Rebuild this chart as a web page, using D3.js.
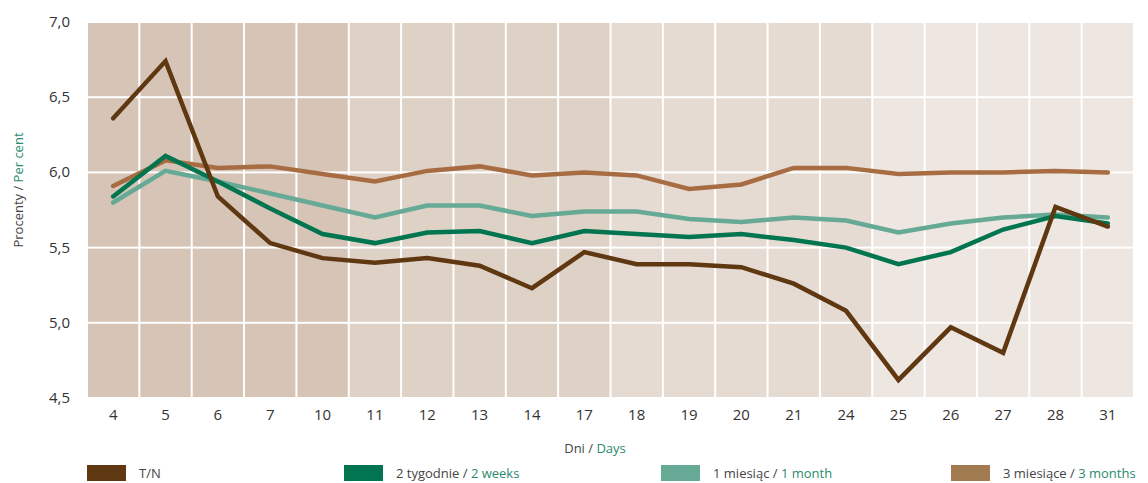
<!DOCTYPE html>
<html>
<head>
<meta charset="utf-8">
<script src="https://cdn.jsdelivr.net/npm/d3@7"></script>
<style>
  body { margin: 0; background: #fff; }
  text { font-family: "Open Sans", sans-serif; }
</style>
</head>
<body>
<script>
const width = 1148;
const height = 483;
const margin = { top: 22, right: 14, bottom: 85, left: 87 };

const days = ["4", "5", "6", "7", "10", "11", "12", "13", "14", "17",
  "18", "19", "20", "21", "24", "25", "26", "27", "28", "31"];
// week index of each day, used for the background shade
const weekOf = [0, 0, 0, 0, 0, 1, 1, 1, 1, 1, 2, 2, 2, 2, 2, 3, 3, 3, 3, 3];

const tn = [6.36, 6.74, 5.84, 5.53, 5.43, 5.40, 5.43, 5.38, 5.23, 5.47,
  5.39, 5.39, 5.37, 5.26, 5.08, 4.62, 4.97, 4.80, 5.77, 5.64];
const weeks2 = [5.84, 6.11, 5.94, 5.76, 5.59, 5.53, 5.60, 5.61, 5.53, 5.61,
  5.59, 5.57, 5.59, 5.55, 5.50, 5.39, 5.47, 5.62, 5.71, 5.66];
const month1 = [5.80, 6.01, 5.94, 5.86, 5.78, 5.70, 5.78, 5.78, 5.71, 5.74,
  5.74, 5.69, 5.67, 5.70, 5.68, 5.60, 5.66, 5.70, 5.72, 5.70];
const months3 = [5.91, 6.08, 6.03, 6.04, 5.99, 5.94, 6.01, 6.04, 5.98, 6.00,
  5.98, 5.89, 5.92, 6.03, 6.03, 5.99, 6.00, 6.00, 6.01, 6.00];

const yTicks = [4.5, 5.0, 5.5, 6.0, 6.5, 7.0];

const series = [
  { pl: "T/N", en: "", values: tn, color: "#5f3812" },
  { pl: "2 tygodnie / ", en: "2 weeks", values: weeks2, color: "#00754f" },
  { pl: "1 miesiąc / ", en: "1 month", values: month1, color: "#66aa96" },
  { pl: "3 miesiące / ", en: "3 months", values: months3, color: "#a86c43" }
];
const weekColors = ["#d6c5b7", "#ded1c5", "#e5dbd2", "#ede6e1"];

const chartWidth = width - margin.left - margin.right;
const chartHeight = 398 - margin.top;

const svg = d3.select("body").append("svg")
  .attr("width", width)
  .attr("height", height);

const g = svg.append("g")
  .attr("transform", `translate(${margin.left}, ${margin.top})`);

const x = d3.scaleBand().domain(days).range([0, chartWidth]);
const y = d3.scaleLinear().domain([4.5, 7.0]).range([chartHeight, 0]);

// background cells, white gaps between columns and rows
const rows = d3.pairs(yTicks);
days.forEach((d, i) => {
  g.selectAll(null).data(rows).enter().append("rect")
    .attr("x", x(d) + 1)
    .attr("width", x.bandwidth() - 2)
    .attr("y", r => y(r[1]) + 1)
    .attr("height", r => y(r[0]) - y(r[1]) - 2)
    .attr("fill", weekColors[weekOf[i]]);
});

// y tick labels
g.selectAll(".ytick").data(yTicks).enter().append("text")
  .attr("x", -17)
  .attr("y", d => y(d) + 5)
  .attr("text-anchor", "end")
  .attr("font-size", 15)
  .attr("fill", "#333")
  .text(d => d3.format(".1f")(d).replace(".", ","));

// x tick labels
g.selectAll(".xtick").data(days).enter().append("text")
  .attr("x", d => x(d) + x.bandwidth() / 2)
  .attr("y", chartHeight + 22)
  .attr("text-anchor", "middle")
  .attr("font-size", 15)
  .attr("fill", "#333")
  .text(d => d);

// axis titles
const xt = svg.append("text")
  .attr("x", 595)
  .attr("y", 453)
  .attr("text-anchor", "middle")
  .attr("font-size", 13)
  .attr("fill", "#444");
xt.append("tspan").text("Dni / ");
xt.append("tspan").attr("fill", "#2a8a6e").text("Days");

const yt = svg.append("text")
  .attr("transform", "translate(23, 190) rotate(-90)")
  .attr("text-anchor", "middle")
  .attr("font-size", 13)
  .attr("fill", "#444");
yt.append("tspan").text("Procenty / ");
yt.append("tspan").attr("fill", "#2a8a6e").text("Per cent");

// lines
const line = d3.line()
  .x((v, i) => x(days[i]) + x.bandwidth() / 2)
  .y(v => y(v));

g.selectAll(".series").data(series.slice().reverse()).enter().append("path")
  .attr("d", s => line(s.values))
  .attr("fill", "none")
  .attr("stroke", s => s.color)
  .attr("stroke-width", 4.5)
  .attr("stroke-linejoin", "miter")
  .attr("stroke-linecap", "round");

// legend
const legendX = [87, 344, 661, 951];
const legendColors = ["#5f3812", "#00754f", "#66aa96", "#a27a50"];
series.forEach((s, i) => {
  svg.append("rect")
    .attr("x", legendX[i])
    .attr("y", 465)
    .attr("width", 39)
    .attr("height", 16)
    .attr("fill", legendColors[i]);
  const t = svg.append("text")
    .attr("x", legendX[i] + 52)
    .attr("y", 478)
    .attr("font-size", 13)
    .attr("fill", "#444");
  t.append("tspan").text(s.pl);
  t.append("tspan").attr("fill", "#2a8a6e").text(s.en);
});
</script>
</body>
</html>
